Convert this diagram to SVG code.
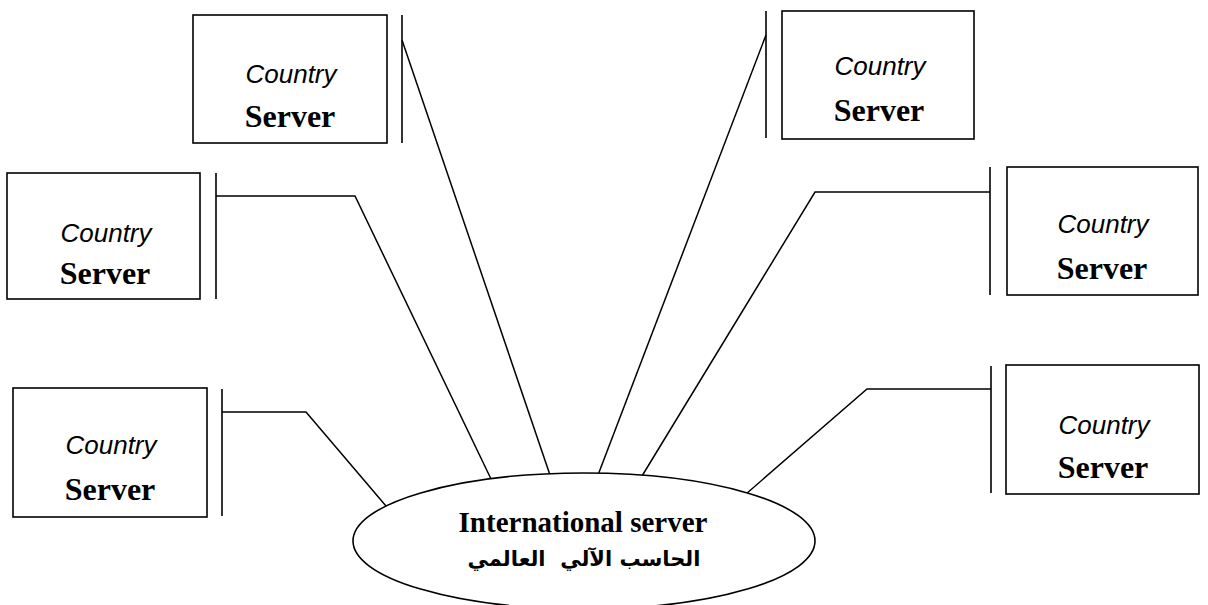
<svg xmlns="http://www.w3.org/2000/svg" width="1208" height="605" viewBox="0 0 1208 605">
  <style>
    .box { fill: #ffffff; stroke: #000000; stroke-width: 1.6; }
    .bar { stroke: #000000; stroke-width: 1.6; }
    .wire { fill: none; stroke: #000000; stroke-width: 1.5; }
    .country { font-family: "Liberation Sans", Arial, sans-serif; font-style: italic; font-size: 26px; fill: #000; text-anchor: middle; }
    .server { font-family: "Liberation Serif", "Times New Roman", serif; font-weight: bold; font-size: 32px; fill: #000; text-anchor: middle; }
    .hub { fill: #ffffff; stroke: #000000; stroke-width: 1.6; }
    .hubEn { font-family: "Liberation Serif", "Times New Roman", serif; font-weight: bold; font-size: 29px; fill: #000; text-anchor: middle; }
    .hubAr { font-family: "DejaVu Sans", "Noto Sans", sans-serif; font-weight: bold; font-size: 21px; fill: #000; text-anchor: middle; }
  </style>
  <rect width="1208" height="605" fill="#ffffff"/>

  <!-- connectors from each server's port bar to the central hub -->
  <g id="connectors">
    <polyline class="wire" points="402,40 550,475"/>
    <polyline class="wire" points="766,35 598,475"/>
    <polyline class="wire" points="216,196 355,196 492,481"/>
    <polyline class="wire" points="990,192 815,192 642,476"/>
    <polyline class="wire" points="222,412 306,412 386,506"/>
    <polyline class="wire" points="991,389 867,389 746,494"/>
  </g>

  <!-- country servers -->
  <g id="server-top-left">
    <rect class="box" x="193" y="15" width="194" height="128"/>
    <line class="bar" x1="402" y1="15" x2="402" y2="143"/>
    <text class="country" x="291" y="83">Country</text>
    <text class="server" x="290" y="127">Server</text>
  </g>
  <g id="server-top-right">
    <rect class="box" x="782" y="11" width="192" height="128"/>
    <line class="bar" x1="766" y1="11" x2="766" y2="138"/>
    <text class="country" x="880" y="75">Country</text>
    <text class="server" x="879" y="121">Server</text>
  </g>
  <g id="server-mid-left">
    <rect class="box" x="7" y="173" width="193" height="126"/>
    <line class="bar" x1="216" y1="173" x2="216" y2="299"/>
    <text class="country" x="106" y="242">Country</text>
    <text class="server" x="105" y="284">Server</text>
  </g>
  <g id="server-mid-right">
    <rect class="box" x="1007" y="167" width="191" height="128"/>
    <line class="bar" x1="990" y1="167" x2="990" y2="295"/>
    <text class="country" x="1103" y="233">Country</text>
    <text class="server" x="1102" y="279">Server</text>
  </g>
  <g id="server-bottom-left">
    <rect class="box" x="13" y="388" width="194" height="129"/>
    <line class="bar" x1="222" y1="389" x2="222" y2="516"/>
    <text class="country" x="111" y="454">Country</text>
    <text class="server" x="110" y="500">Server</text>
  </g>
  <g id="server-bottom-right">
    <rect class="box" x="1006" y="365" width="193" height="129"/>
    <line class="bar" x1="991" y1="366" x2="991" y2="493"/>
    <text class="country" x="1104" y="434">Country</text>
    <text class="server" x="1103" y="478">Server</text>
  </g>

  <!-- central international server -->
  <g id="international-server">
    <ellipse class="hub" cx="584" cy="541" rx="231" ry="68"/>
    <text class="hubEn" x="583" y="532">International server</text>
    <text class="hubAr" x="584" y="566" xml:space="preserve">الحاسب الآلي  العالمي</text>
  </g>
</svg>
